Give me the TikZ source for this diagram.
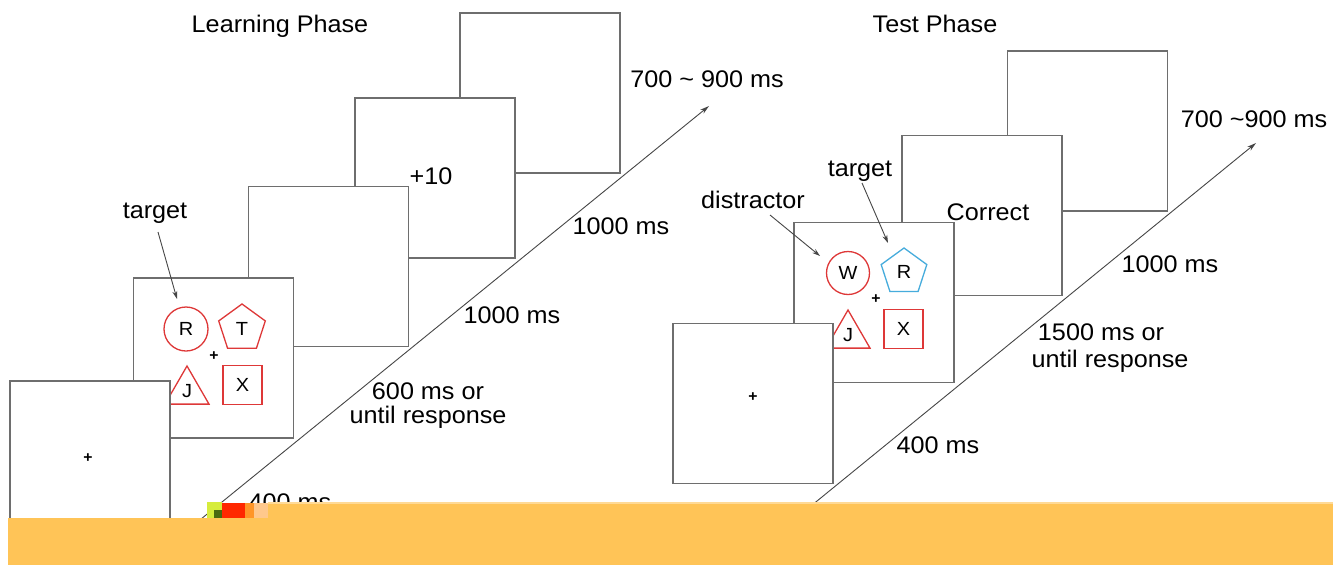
\documentclass[tikz,border=0pt]{standalone}
\usepackage{fontspec}
\setmainfont{Liberation Sans}[FakeStretch=1.05]
\usetikzlibrary{shapes.geometric,arrows.meta}
\definecolor{shred}{RGB}{222,56,56}
\definecolor{shblue}{RGB}{70,172,220}
\definecolor{framec}{RGB}{110,110,110}
\definecolor{linec}{RGB}{70,70,70}
\definecolor{barc}{RGB}{255,196,87}
\definecolor{barl}{RGB}{255,218,150}
\definecolor{artlime}{RGB}{214,236,60}
\definecolor{artgreen}{RGB}{74,106,16}
\definecolor{artred}{RGB}{255,40,0}
\definecolor{artorange}{RGB}{255,150,40}
\definecolor{artpeach}{RGB}{255,200,140}
\begin{document}
\begin{tikzpicture}[x=1pt,y=-1pt,
  frame/.style={draw=framec,fill=white,line width=1.3pt,minimum width=160pt,minimum height=160pt,inner sep=0pt},
  lbl/.style={font=\fontsize{24}{26}\selectfont,inner sep=0pt,anchor=base},
  shp/.style={font=\fontsize{19}{20}\selectfont,line width=1.3pt,inner sep=0pt,fill=white},
  fix/.style={font=\fontsize{15}{15}\selectfont\bfseries,inner sep=0pt},
  tl/.style={draw=linec,line width=0.9pt,-{Stealth[length=8pt,width=5pt]}},
  tm/.style={draw=linec,line width=0.9pt,-{Stealth[length=9pt,width=5pt]}},
]
\useasboundingbox (0,0) rectangle (1343,565);
\fill[white] (0,0) rectangle (1343,565);

% ---------------- Learning phase ----------------
\node[lbl] (lp) at (280,32) {Learning Phase};
\node[frame] (L5) at (540,93) {};
\node[frame] (L4) at (435,178) {};
\node[frame] (L3) at (328.5,266.5) {};
\node[frame] (L2) at (213.5,358) {};
\node[shp,draw=shred,circle,minimum size=44pt] (lR) at (186,329) {R};
\node[shp,draw=shred,regular polygon,regular polygon sides=5,minimum size=49pt] (lT) at (242,328.5) {T};
\node[shp,draw=shred,regular polygon,regular polygon sides=3,minimum size=50.8pt] (lJ) at (187,391.4) {J};
\node[shp,draw=shred,rectangle,minimum size=39pt] (lX) at (242.5,385) {X};
\node[fix] (lfix2) at (214,356) {+};
\node[frame] (L1) at (90,461) {};
\node[fix] (lfix1) at (88,458) {+};

\node[lbl] (pl10) at (431,184) {+10};
\node[lbl] (l79) at (707,87) {700 \textasciitilde{} 900 ms};
\node[lbl] (l1000a) at (621,234) {1000 ms};
\node[lbl] (l1000b) at (512,323) {1000 ms};
\node[lbl] (l600a) at (428,399) {600 ms or};
\node[lbl] (l600b) at (428,423) {until response};
\node[lbl] (l400) at (290,510) {400 ms};
\node[lbl] (ltg) at (155,218) {target};

\coordinate (tLs) at (158,232);
\coordinate (tLe) at (177,299);
\draw[tl] (tLs) -- (tLe);
\coordinate (aLs) at (190,528);
\coordinate (aLe) at (709,106);
\draw[tm] (aLs) -- (aLe);

% ---------------- Test phase ----------------
\node[lbl] (tp) at (935,32) {Test Phase};
\node[frame] (R5) at (1087.5,131) {};
\node[frame] (R4) at (982,215.5) {};
\node[frame] (R3) at (874,302.5) {};
\node[shp,draw=shred,circle,minimum size=43pt] (rW) at (848,273) {W};
\node[shp,draw=shblue,regular polygon,regular polygon sides=5,minimum size=48pt] (rR) at (904,272) {R};
\node[shp,draw=shred,regular polygon,regular polygon sides=3,minimum size=50.8pt] (rJ) at (848,335.4) {J};
\node[shp,draw=shred,rectangle,minimum size=39pt] (rX) at (903.5,329) {X};
\node[fix] (rfix3) at (876,299) {+};
\node[frame] (R2) at (753,403.5) {};
\node[fix] (rfix2) at (753,397) {+};

\node[lbl] (rcor) at (988,220) {Correct};
\node[lbl] (r79) at (1254,127) {700 \textasciitilde900 ms};
\node[lbl] (r1000) at (1170,272) {1000 ms};
\node[lbl] (r1500a) at (1101,340) {1500 ms or};
\node[lbl] (r1500b) at (1110,367) {until response};
\node[lbl] (r400) at (938,453) {400 ms};
\node[lbl] (rdis) at (753,208) {distractor};
\node[lbl] (rtg) at (860,176) {target};

\coordinate (dRs) at (770,215);
\coordinate (dRe) at (820,256);
\draw[tl] (dRs) -- (dRe);
\coordinate (tRs) at (862,183);
\coordinate (tRe) at (888,243);
\draw[tl] (tRs) -- (tRe);
\coordinate (aRs) at (806,510);
\coordinate (aRe) at (1256,143);
\draw[tm] (aRs) -- (aRe);

% ---------------- bottom bar and artefact ----------------
\fill[barc] (8,518) rectangle (1333,565);
\fill[barc] (268,503) rectangle (1333,518);
\fill[barl] (268,502) rectangle (1333,504);
\fill[artlime] (207,502) rectangle (222,518);
\fill[artgreen] (214,510) rectangle (222,518);
\fill[artred] (222,503) rectangle (245,518);
\fill[artorange] (245,503) rectangle (254,518);
\fill[artpeach] (254,503) rectangle (268,518);
\end{tikzpicture}
\end{document}
